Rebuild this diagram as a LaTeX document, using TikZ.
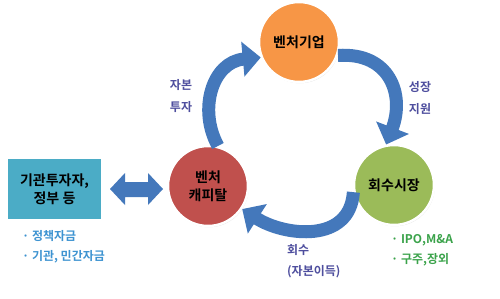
\documentclass[tikz,border=0pt]{standalone}
\usepackage{fontspec}
\setmainfont{Noto Sans CJK KR}[BoldFont={* Bold}]
\usetikzlibrary{arrows.meta,shadows}
\definecolor{vorange}{HTML}{F79646}
\definecolor{vred}{HTML}{C0504D}
\definecolor{vgreen}{HTML}{9BBB59}
\definecolor{vaqua}{HTML}{4BACC6}
\definecolor{vblue}{HTML}{4478BB}
\definecolor{vlbl}{HTML}{4E4E9E}
\definecolor{vbul}{HTML}{3D93D1}
\definecolor{vgrn}{HTML}{3BA34B}
\tikzset{
  bubble/.style={circle, minimum size=80pt, inner sep=0pt, draw=white, line width=2.5pt,
    font=\bfseries\fontsize{14}{18}\selectfont, align=center,
    drop shadow={opacity=0.25, shadow xshift=0.8pt, shadow yshift=-1.2pt}},
  flow/.style={draw=vblue, line width=13pt, -{Triangle[width=34pt,length=18pt]}},
  lbl/.style={text=vlbl, font=\bfseries\fontsize{12}{21.5}\selectfont, inner sep=0pt},
  bul/.style={font=\bfseries\fontsize{12}{20.5}\selectfont, inner sep=0pt, anchor=north west, align=left}
}
\begin{document}
\begin{tikzpicture}[x=1pt,y=-1pt]
\useasboundingbox[fill=white] (0,0) rectangle (500,298);
% circles
\node[bubble, fill=vorange] (vent) at (299,42) {벤처기업};
\node[bubble, fill=vgreen] (vmkt) at (394,185) {회수시장};
\node[bubble, fill=vred] (vcap) at (208,186) {벤처\\캐피탈};
% box
\node[draw=white, line width=2pt, fill=vaqua, minimum width=95pt, minimum height=62pt,
  font=\bfseries\fontsize{14}{18}\selectfont, align=center,
  drop shadow={opacity=0.25, shadow xshift=0.8pt, shadow yshift=-1.2pt}] (inst) at (54.5,189) {기관투자자,\\정부 등};
% double arrow
\fill[vblue] (110,189) -- (125,173) -- (125,182) -- (148,182) -- (148,173) -- (163,189)
  -- (148,205) -- (148,197) -- (125,197) -- (125,205) -- cycle;
% curved arrows
\draw[flow] (vcap.76) .. controls (198,110) and (212,62) .. (vent.202);
\draw[flow] (vent.341) .. controls (390,52) and (405,95) .. (vmkt.101);
\draw[flow] (vmkt.190) .. controls (350,244) and (284,236) .. (vcap.326);
% labels
\node[lbl, align=center] (l1) at (181,96) {자본\\투자};
\node[lbl, align=center] (l2) at (420,98) {성장\\지원};
\node[lbl, align=left, anchor=west] (l3) at (287,261) {회수\\(자본이득)};
\node[bul, text=vbul] (b1) at (22,230) {· 정책자금\\· 기관, 민간자금};
\node[bul, text=vgrn] (b2) at (391,234) {· IPO,M\&A\\· 구주,장외};
\end{tikzpicture}
\end{document}
